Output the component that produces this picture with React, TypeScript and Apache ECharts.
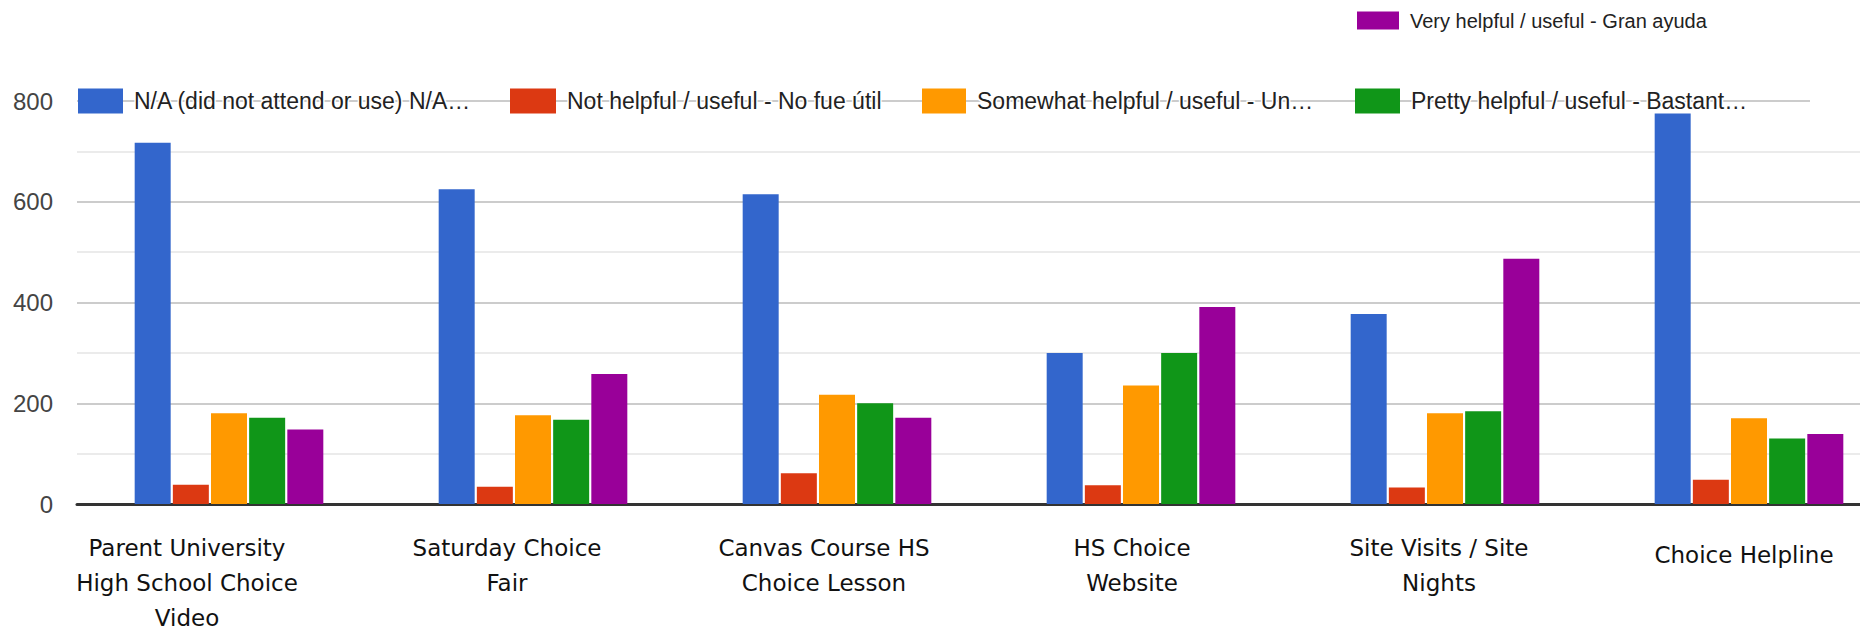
import React, { useEffect, useRef } from "react";
import * as echarts from "echarts";

const categories = [
  "Parent University\nHigh School Choice\nVideo",
  "Saturday Choice\nFair",
  "Canvas Course HS\nChoice Lesson",
  "HS Choice\nWebsite",
  "Site Visits / Site\nNights",
  "Choice Helpline",
];

const seriesNames = [
  "N/A (did not attend or use) N/A…",
  "Not helpful / useful - No fue útil",
  "Somewhat helpful / useful - Un…",
  "Pretty helpful / useful - Bastant…",
  "Very helpful / useful - Gran ayuda",
];

const naValues = [717, 625, 615, 300, 377, 775];
const notHelpfulValues = [38, 34, 61, 37, 33, 48];
const somewhatValues = [180, 176, 217, 235, 180, 170];
const prettyValues = [171, 167, 200, 300, 184, 130];
const veryValues = [148, 258, 171, 391, 487, 139];

const yMin = 0;
const yMax = 800;
const yInterval = 200;

const colors = ["#3366cc", "#dc3912", "#ff9900", "#109618", "#990099"];

// layout-only helpers (not data)
const labelShift = [-42, -26, -13, -9, -6, -5];
const legendPos = [
  { left: 78, top: 88, w: 45, h: 25, fs: 23 },
  { left: 510, top: 88, w: 46, h: 25, fs: 23 },
  { left: 922, top: 88, w: 44, h: 25, fs: 23 },
  { left: 1355, top: 88, w: 45, h: 25, fs: 23 },
  { left: 1357, top: 9, w: 42, h: 18, fs: 20 },
];

export default function App() {
  const ref = useRef<HTMLDivElement>(null);

  useEffect(() => {
    if (!ref.current) return;
    const chart = echarts.init(ref.current, undefined, { renderer: "svg" });
    const allValues = [naValues, notHelpfulValues, somewhatValues, prettyValues, veryValues];

    const option = {
      animation: false,
      backgroundColor: "#ffffff",
      grid: {
        left: 77,
        top: 101,
        width: 1824,
        height: 403,
        containLabel: false,
        outerBoundsMode: "none",
      },
      legend: seriesNames.map((name, i) => ({
        data: [name],
        left: legendPos[i].left,
        top: legendPos[i].top,
        itemWidth: legendPos[i].w,
        itemHeight: legendPos[i].h,
        icon: "rect",
        selectedMode: false,
        padding: 0,
        itemGap: 0,
        textStyle: {
          fontFamily: "'Liberation Sans', Arial, sans-serif",
          fontSize: legendPos[i].fs,
          color: "#222222",
          padding: [0, 0, 0, 6],
          textBorderColor: "#ffffff",
          textBorderWidth: 3,
        },
      })),
      xAxis: {
        type: "category",
        data: categories.map((c, i) => ({
          value: c,
          textStyle: {
            padding: [
              i === categories.length - 1 ? 7 : 0,
              labelShift[i] < 0 ? -labelShift[i] * 2 : 0,
              0,
              labelShift[i] > 0 ? labelShift[i] * 2 : 0,
            ],
          },
        })),
        axisLine: { show: true, lineStyle: { color: "#333333", width: 3 } },
        axisTick: { show: false },
        axisLabel: {
          interval: 0,
          margin: 26,
          color: "#111111",
          fontFamily: "'DejaVu Sans', sans-serif",
          fontSize: 23,
          lineHeight: 35,
          align: "center",
          hideOverlap: false,
        },
        splitLine: { show: false },
      },
      yAxis: {
        type: "value",
        min: yMin,
        max: yMax,
        interval: yInterval,
        axisLine: { show: false },
        axisTick: { show: false },
        axisLabel: {
          margin: 24,
          color: "#444444",
          fontFamily: "'Liberation Sans', Arial, sans-serif",
          fontSize: 24,
        },
        splitLine: { show: true, lineStyle: { color: "#cccccc", width: 2 } },
        minorTick: { show: false, splitNumber: 2 },
        minorSplitLine: { show: true, lineStyle: { color: "#ebebeb", width: 2 } },
      },
      series: seriesNames.map((name, i) => ({
        name,
        type: "bar",
        data: allValues[i],
        barWidth: 36,
        barGap: "6%",
        itemStyle: { color: colors[i] },
        emphasis: { disabled: true },
      })),
      graphic: [
        { type: "rect", shape: { x: 1810, y: 96, width: 60, height: 10 }, style: { fill: "#ffffff" }, z: 100 },
      ],
    };

    chart.setOption(option as any);
    return () => chart.dispose();
  }, []);

  return (
    <div
      ref={ref}
      style={{ position: "absolute", left: 0, top: 0, width: 1860, height: 631 }}
    />
  );
}
